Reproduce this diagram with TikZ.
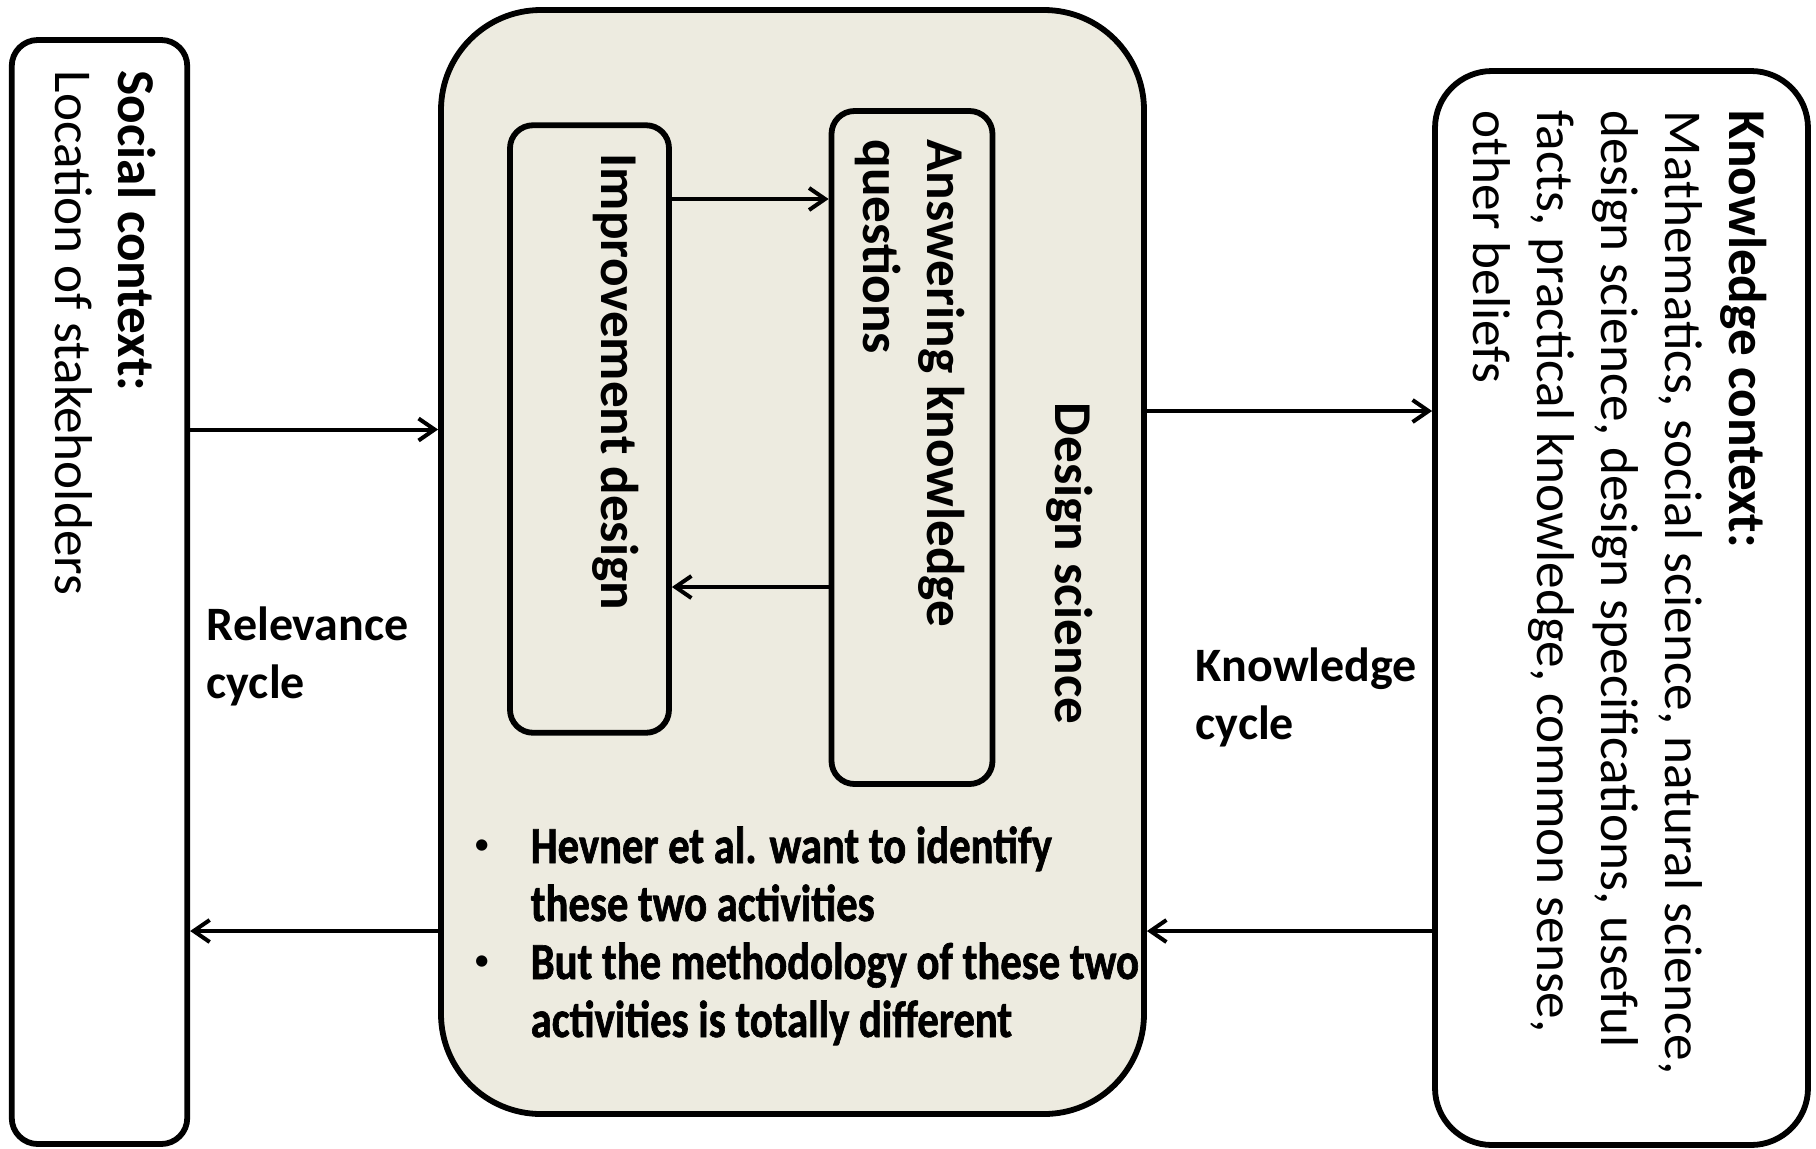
\documentclass[tikz,border=0pt]{standalone}
\usepackage{fontspec}
\setmainfont{Carlito}
\newfontfamily\condfont[FakeStretch=0.82,FakeBold=1.2]{Carlito}
\usetikzlibrary{arrows.meta}

\definecolor{dsfill}{RGB}{237,235,224}

\tikzset{every picture/.style={line width=0.75pt}}
\tikzset{
  ctxbox/.style={draw, line width=2.9pt, inner sep=0pt},
  cyc/.style={-{Straight Barb[length=8pt,width=11pt]}, line width=2pt},
  vtext/.style={rotate=-90, anchor=base west, inner sep=0pt, font=\fontsize{26.6}{32}\selectfont},
  htext/.style={anchor=base west, inner sep=0pt, font=\fontsize{24}{29}\selectfont\bfseries},
  blt/.style={anchor=base west, inner sep=0pt, font=\condfont\fontsize{26}{29}\selectfont\bfseries},
  dot/.style={anchor=base west, inner sep=0pt, font=\fontsize{16}{29}\selectfont}
}

\begin{document}
\begin{tikzpicture}[x=0.5pt,y=0.5pt,yscale=-1,xscale=1]
\useasboundingbox (0,0) rectangle (1816,1148);

%Shape: Rounded Rect [social context]
\draw (99.5,592) node (soc) [ctxbox, rounded corners=13pt, minimum width=87.75pt, minimum height=552pt] {};
%Shape: Rounded Rect [design science]
\draw (792.5,562) node (ds) [ctxbox, fill=dsfill, rounded corners=50pt, minimum width=351.5pt, minimum height=552pt] {};
%Shape: Rounded Rect [improvement design]
\draw (589.5,429) node (imp) [ctxbox, rounded corners=11.5pt, minimum width=79.5pt, minimum height=303.75pt] {};
%Shape: Rounded Rect [answering knowledge questions]
\draw (912,447.5) node (ans) [ctxbox, rounded corners=11.5pt, minimum width=80.5pt, minimum height=336.5pt] {};
%Shape: Rounded Rect [knowledge context]
\draw (1621.5,608) node (kno) [ctxbox, rounded corners=28.5pt, minimum width=186.5pt, minimum height=537pt] {};

%Straight Lines [relevance cycle]
\draw [cyc] (soc.east |- 0,429.5) -- (ds.west |- 0,429.5);
\draw [cyc] (ds.west |- 0,931) -- (soc.east |- 0,931);
%Straight Lines [inner cycle]
\draw [cyc] (imp.east |- 0,199) -- (ans.west |- 0,199);
\draw [cyc] (ans.west |- 0,587) -- (imp.east |- 0,587);
%Straight Lines [knowledge cycle]
\draw [cyc] (ds.east |- 0,411) -- (kno.west |- 0,411);
\draw [cyc] (kno.west |- 0,931) -- (ds.east |- 0,931);

% Text Node
\draw (118,70) node (soc1) [vtext] {\bfseries Social context:};
% Text Node
\draw (55,70) node (soc2) [vtext] {Location of stakeholders};
% Text Node
\draw (206,640) node (rel1) [htext] {Relevance};
\draw (206,698) node (rel2) [htext] {cycle};
% Text Node
\draw (601,153) node (impT) [vtext] {\bfseries Improvement design};
% Text Node
\draw (927.5,139) node (ans1) [vtext] {\bfseries Answering knowledge};
\draw (863.5,139) node (ans2) [vtext] {\bfseries questions};
% Text Node
\draw (1055,402) node (dsT) [vtext] {\bfseries Design science};
% Text Node
\draw (1195,681) node (kc1) [htext] {Knowledge};
\draw (1195,739) node (kc2) [htext] {cycle};
% Text Node
\draw (1729,110) node (kn1) [vtext] {\bfseries Knowledge context:};
\draw (1665,110) node (kn2) [vtext] {Mathematics, social science, natural science,};
\draw (1601,110) node (kn3) [vtext] {design science, design specifications, useful};
\draw (1537,110) node (kn4) [vtext] {facts, practical knowledge, common sense,};
\draw (1473,110) node (kn5) [vtext] {other beliefs};
% Text Node
\draw (473,854) node (bul1) [dot] {\textbullet};
\draw (530,863) node (hev1) [blt] {Hevner et al. want to identify};
\draw (530,921) node (hev2) [blt] {these two activities};
% Text Node
\draw (473,970) node (bul2) [dot] {\textbullet};
\draw (530,979) node (but1) [blt] {But the methodology of these two};
\draw (530,1037) node (but2) [blt] {activities is totally different};

\end{tikzpicture}
\end{document}
